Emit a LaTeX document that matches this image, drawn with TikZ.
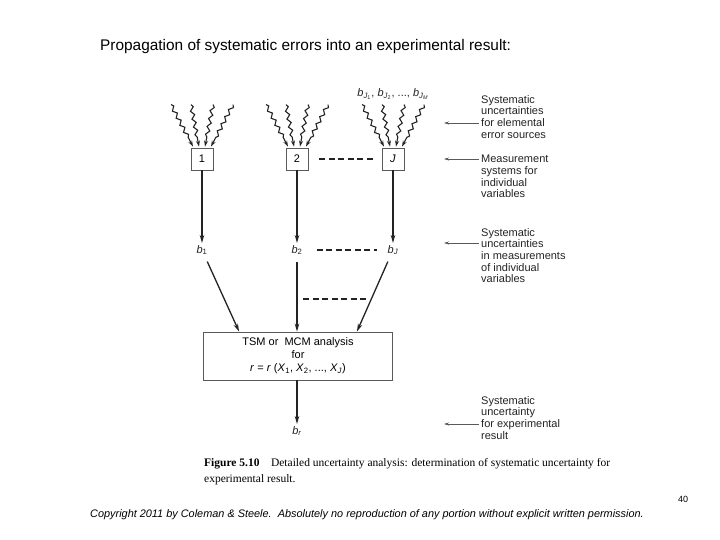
\documentclass[tikz,border=0pt]{standalone}
\usepackage{fontspec}
\setmainfont{Liberation Sans}
\newfontfamily\capfont{Liberation Serif}
\usetikzlibrary{arrows.meta,positioning,calc,decorations.pathmorphing}
\definecolor{ink}{RGB}{35,35,35}
\definecolor{frame}{RGB}{90,90,90}
\tikzset{
  varbox/.style={draw=frame,line width=0.8pt,minimum size=22pt,inner sep=0pt,font=\fontsize{11}{13}\selectfont},
  anabox/.style={draw=frame,line width=0.8pt,minimum width=189pt,minimum height=48pt,align=center,inner sep=2pt,font=\fontsize{11}{13}\selectfont},
  blab/.style={font=\fontsize{11}{13}\selectfont,inner sep=2pt,text=ink},
  flow/.style={-{Stealth[length=8pt,width=4.5pt]},line width=1.3pt,draw=ink},
  wavy/.style={-{Stealth[length=6pt,width=4pt]},line width=1.1pt,draw=ink,decorate,decoration={snake,amplitude=1.8pt,segment length=8pt,post length=8pt}},
  gap/.style={dash pattern=on 6pt off 3.5pt,line width=1.3pt,draw=ink},
  note/.style={anchor=north west,align=left,inner sep=0pt,font=\fontsize{11}{11.7}\selectfont,text=ink},
  pointer/.style={-{Stealth[length=5pt,width=3pt]},line width=0.6pt,draw=frame},
}
\begin{document}
\begin{tikzpicture}[x=1pt,y=-1pt]
\useasboundingbox (0,0) rectangle (720,540);
\node[anchor=west,inner sep=0pt,font=\fontsize{15.4}{17}\selectfont] (title) at (100,47) {Propagation of systematic errors into an experimental result:};
% measurement systems and their elemental sources
\node[varbox] (box1) at (202,159) {1};
\node[varbox] (box2) at (297,159) {2};
\node[varbox] (boxJ) at (393,159) {\textit{J}};
\node[blab] (bJM) at (393,94) {\textit{b}\textsubscript{\textit{J}\textsubscript{1}}, \textit{b}\textsubscript{\textit{J}\textsubscript{2}}, ..., \textit{b}\textsubscript{\textit{J}\textsubscript{\textit{M}}}};
\foreach \bx in {box1,box2,boxJ}
  \foreach \s/\e in {-31/-9,-11/-3,11/3,31/9}
    \draw[wavy] ($(\bx.north)+(\s,-43)$) -- ($(\bx.north)+(\e,-1)$);
\draw[gap,shorten <=11pt,shorten >=8pt] (box2) -- (boxJ);
% systematic uncertainties of the variables
\node[blab] (b1) at (202,250) {\textit{b}\textsubscript{1}};
\node[blab] (b2) at (297,250) {\textit{b}\textsubscript{2}};
\node[blab] (bJ) at (393,250) {\textit{b}\textsubscript{\textit{J}}};
\draw[flow] (box1) -- (b1);
\draw[flow] (box2) -- (b2);
\draw[flow] (boxJ) -- (bJ);
\draw[gap,shorten <=12pt,shorten >=9pt] (b2) -- (bJ);
% analysis
\node[anabox] (tsm) at (298,356) {TSM or\ \ MCM analysis\\for\\\textit{r} = \textit{r} (\textit{X}\textsubscript{1}, \textit{X}\textsubscript{2}, ..., \textit{X}\textsubscript{\textit{J}})};
\draw[flow,shorten <=5pt] (b1) -- ($(tsm.north west)+(36,0)$);
\draw[flow,shorten <=5pt] (b2) -- (b2 |- tsm.north);
\draw[flow,shorten <=5pt] (bJ) -- ($(tsm.north east)+(-36,0)$);
\draw[gap] (303,299) -- (367,299);
\node[blab] (br) at (297,431) {\textit{b}\textsubscript{\textit{r}}};
\draw[flow] (tsm.south -| br) -- (br);
% notes on the right
\node[note] (note1) at (481,95) {Systematic\\uncertainties\\for elemental\\error sources};
\node[note] (note2) at (481,155) {Measurement\\systems for\\individual\\variables};
\node[note] (note3) at (481,228) {Systematic\\uncertainties\\in measurements\\of individual\\variables};
\node[note] (note4) at (481,396) {Systematic\\uncertainty\\for experimental\\result};
\coordinate (tip1) at (444,123);
\coordinate (tip2) at (444,159);
\coordinate (tip3) at (444,243);
\coordinate (tip4) at (444,424);
\foreach \i in {1,...,4}
  \draw[pointer,shorten <=2pt] (note\i.west |- tip\i) -- (tip\i);
% caption and footer
\node[anchor=base west,align=left,inner sep=0pt,font=\capfont\fontsize{11.5}{16}\selectfont] (caption) at (204,482) {\textbf{Figure 5.10}\quad Detailed uncertainty analysis: determination of systematic uncertainty for\\experimental result.};
\node[font=\fontsize{9}{10}\selectfont,inner sep=0pt] (page) at (683,499) {40};
\node[anchor=base west,inner sep=0pt,font=\itshape\fontsize{10.9}{12}\selectfont] (copy) at (90,517) {Copyright 2011 by Coleman \& Steele.\ \ Absolutely no reproduction of any portion without explicit written permission.};
\end{tikzpicture}
\end{document}
